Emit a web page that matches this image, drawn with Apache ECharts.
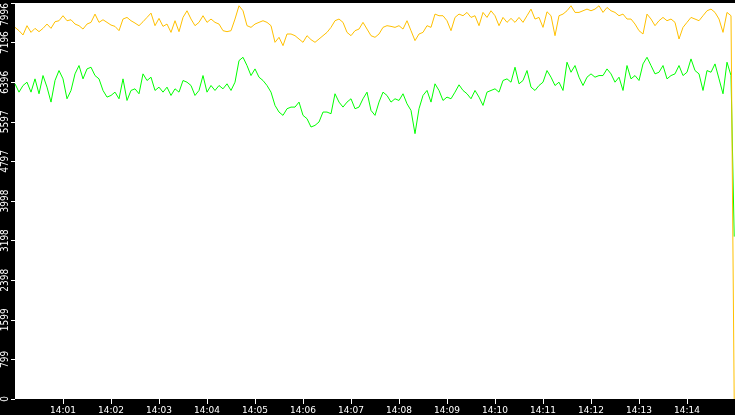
<!DOCTYPE html>
<html lang="en">
<head>
  <meta charset="UTF-8">
  <title>Counter trend 14:00 - 14:15</title>
  <style>
    * { margin: 0; padding: 0; }
    body { background: #000000; }
    #chart { width: 735px; height: 415px; }
  </style>
</head>
<body>
  <div id="chart"></div>

  <script src="https://cdn.jsdelivr.net/npm/echarts@6/dist/echarts.min.js"></script>
  <script type="text/javascript">
  // one sample every 5 seconds from 14:00:00, last sample is the reset at 14:14:59
  var sampleSec = 5;
  var endSec = 899;
  var xTickLabels = ['14:01', '14:02', '14:03', '14:04', '14:05', '14:06', '14:07',
                     '14:08', '14:09', '14:10', '14:11', '14:12', '14:13', '14:14'];

  var orangeValues = [
    7504, 7437, 7350, 7538, 7403, 7484, 7417, 7484, 7571, 7484, 7618, 7638, 7739, 7638, 7658,
    7571, 7538, 7470, 7571, 7605, 7772, 7605, 7658, 7605, 7551, 7524, 7437, 7672, 7705, 7638,
    7591, 7538, 7618, 7705, 7792, 7538, 7685, 7524, 7571, 7403, 7638, 7417, 7705, 7839, 7672,
    7538, 7605, 7739, 7605, 7672, 7605, 7571, 7437, 7417, 7437, 7672, 7940, 7839, 7538, 7504,
    7571, 7605, 7638, 7605, 7538, 7202, 7303, 7135, 7370, 7370, 7336, 7269, 7202, 7336, 7256,
    7202, 7269, 7336, 7403, 7504, 7638, 7672, 7605, 7403, 7336, 7437, 7470, 7605, 7470, 7336,
    7303, 7370, 7504, 7538, 7524, 7504, 7538, 7470, 7638, 7437, 7236, 7370, 7403, 7538, 7504,
    7772, 7739, 7739, 7638, 7437, 7705, 7772, 7739, 7806, 7705, 7739, 7538, 7806, 7705, 7839,
    7739, 7538, 7705, 7605, 7685, 7605, 7705, 7605, 7739, 7873, 7672, 7705, 7504, 7819, 7739,
    7336, 7739, 7772, 7839, 7940, 7806, 7806, 7839, 7873, 7839, 7873, 7940, 7806, 7906, 7839,
    7806, 7739, 7772, 7672, 7672, 7571, 7437, 7370, 7772, 7672, 7538, 7638, 7705, 7638, 7672,
    7605, 7269, 7504, 7605, 7705, 7672, 7638, 7739, 7839, 7873, 7806, 7672, 7403, 7806, 7739
  ];
  var orangeLast = 0;

  var greenValues = [
    6364, 6196, 6330, 6397, 6196, 6464, 6163, 6531, 6297, 5995, 6431, 6632, 6464, 6062, 6230,
    6565, 6733, 6464, 6665, 6699, 6531, 6464, 6230, 6096, 6129, 6196, 6062, 6464, 6028, 6230,
    6263, 6163, 6565, 6431, 6498, 6230, 6297, 6196, 6297, 6129, 6263, 6196, 6431, 6397, 6330,
    6129, 6230, 6531, 6196, 6330, 6230, 6330, 6263, 6364, 6230, 6397, 6833, 6900, 6733, 6531,
    6665, 6498, 6431, 6330, 6196, 5928, 5794, 5727, 5861, 5894, 5894, 5995, 5727, 5660, 5492,
    5525, 5593, 5794, 5794, 5760, 6163, 5995, 5894, 5995, 6062, 5861, 5894, 6062, 6196, 5827,
    5727, 5995, 6196, 6129, 5995, 6062, 6028, 6163, 5961, 5827, 5358, 5861, 6129, 6230, 5995,
    6364, 6230, 6028, 6096, 6062, 6196, 6344, 6230, 6163, 6062, 6230, 6096, 5928, 6196, 6230,
    6263, 6196, 6431, 6464, 6397, 6699, 6364, 6431, 6632, 6297, 6230, 6330, 6397, 6632, 6498,
    6330, 6397, 6230, 6800, 6598, 6733, 6498, 6330, 6498, 6565, 6498, 6531, 6531, 6665, 6565,
    6397, 6498, 6230, 6733, 6464, 6531, 6431, 6766, 6900, 6733, 6565, 6598, 6733, 6464, 6531,
    6565, 6733, 6531, 6598, 6867, 6632, 6565, 6230, 6632, 6598, 6766, 6464, 6163, 6800, 6531
  ];
  var greenLast = 3279;

  function toPoints (values, last) {
    var pts = values.map(function (v, i) { return [i * sampleSec, v]; });
    pts.push([endSec, last]);
    return pts;
  }

  function main () {
    var chart = echarts.init(document.getElementById('chart'));
    var option = {
      animation: false,
      backgroundColor: '#000000',
      grid: {
        left: 15, right: 0, top: 0, bottom: 16,
        show: true, backgroundColor: '#ffffff', borderWidth: 0
      },
      xAxis: {
        type: 'value',
        min: 0,
        max: 900,
        interval: 60,
        axisLine: { show: false },
        axisTick: { show: true, length: 5, lineStyle: { color: '#ffffff', width: 1 } },
        splitLine: { show: false },
        axisLabel: {
          color: '#ffffff',
          fontFamily: 'DejaVu Sans',
          fontSize: 9,
          margin: 7,
          showMinLabel: false,
          showMaxLabel: false,
          formatter: function (v) { return xTickLabels[Math.round(v / 60) - 1] || ''; }
        }
      },
      yAxis: {
        type: 'value',
        min: 0,
        max: 7996,
        interval: 799.6,
        axisLine: { show: false },
        axisTick: { show: true, length: 4, lineStyle: { color: '#ffffff', width: 1 } },
        splitLine: { show: false },
        axisLabel: {
          color: '#ffffff',
          fontFamily: 'Liberation Sans Narrow, DejaVu Sans Condensed, sans-serif',
          fontSize: 10,
          rotate: 90,
          margin: 5,
          alignMaxLabel: 'right',
          formatter: function (v) { return String(Math.floor(v + 1e-6)); }
        }
      },
      series: [
        {
          name: 'green',
          type: 'line',
          showSymbol: false,
          data: toPoints(greenValues, greenLast),
          lineStyle: { color: '#00ff00', width: 1 }
        },
        {
          name: 'orange',
          type: 'line',
          showSymbol: false,
          data: toPoints(orangeValues, orangeLast),
          lineStyle: { color: '#ffc000', width: 1 }
        }
      ]
    };
    chart.setOption(option);
  }

  window.addEventListener('load', main);
  </script>
</body>
</html>
